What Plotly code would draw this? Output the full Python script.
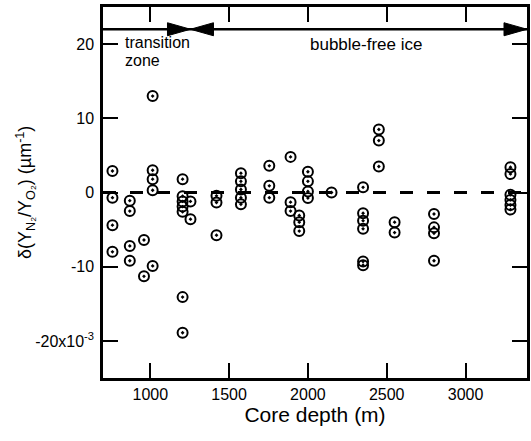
import plotly.graph_objects as go

# Core depth (m) for each measurement
depth = (
    [760] * 4 + [870] * 4 + [960] * 2 + [1015] * 5 + [1205] * 7 + [1255] * 2 +
    [1420] * 3 + [1575] * 5 + [1755] * 3 + [1890] * 3 + [1945] * 3 + [2000] * 4 +
    [2150] * 1 + [2350] * 6 + [2450] * 3 + [2550] * 2 + [2800] * 4 + [3285] * 6
)
# delta(Y_N2/Y_O2) values, in units of 1e-3 um^-1
delta = [
    2.9, -0.7, -4.4, -8.0,
    -1.1, -2.5, -7.2, -9.2,
    -6.4, -11.3,
    13.0, 3.0, 1.8, 0.3, -9.9,
    1.8, -0.5, -1.2, -1.9, -2.6, -14.1, -18.9,
    -1.2, -3.6,
    -0.45, -1.35, -5.75,
    2.6, 1.5, 0.4, -0.7, -1.6,
    3.6, 0.9, -0.7,
    4.8, -1.3, -2.5,
    -3.1, -4.0, -5.2,
    2.8, 1.5, 0.15, -0.75,
    0.0,
    0.7, -2.8, -3.8, -4.9, -9.3, -9.8,
    8.5, 7.0, 3.5,
    -4.0, -5.4,
    -2.9, -4.7, -5.5, -9.2,
    3.4, 2.5, -0.3, -1.0, -1.7, -2.3,
]

x_ticks = [1000, 1500, 2000, 2500, 3000]
y_ticks = [-20, -10, 0, 10, 20]
y_ticktext = ["-20x10<sup>-3</sup>", "-10", "0", "10", "20"]

x_range = [700, 3390]
y_range = [-25, 25]
zone_boundary = 1255
arrow_level = 22

FONT = "Liberation Sans, Arial, Helvetica, sans-serif"

fig = go.Figure()
fig.add_trace(go.Scatter(
    x=depth, y=delta, mode="markers",
    marker=dict(symbol="circle-open-dot", size=10, color="black",
                line=dict(width=2, color="black")),
    showlegend=False,
))

# zero reference line
fig.add_shape(type="line", xref="x domain", yref="y", x0=0, x1=1, y0=0, y1=0,
              line=dict(color="black", width=3, dash="13px,14px"), layer="below")

# zone arrow line and heads
fig.add_shape(type="line", xref="x domain", yref="y", x0=0, x1=1,
              y0=arrow_level, y1=arrow_level, line=dict(color="black", width=2.5))
head_right = "M-23,-6.5 L0,0 L-23,6.5 Z"
head_left = "M23,-6.5 L0,0 L23,6.5 Z"
for anchor, p in [(zone_boundary, head_right), (zone_boundary, head_left),
                  (x_range[1], head_right)]:
    fig.add_shape(type="path", xref="x", yref="y", xsizemode="pixel", ysizemode="pixel",
                  xanchor=anchor, yanchor=arrow_level, path=p,
                  fillcolor="black", line=dict(color="black", width=1))

fig.add_annotation(x=1044, y=20.2, text="transition", showarrow=False,
                   font=dict(family=FONT, size=16, color="black"))
fig.add_annotation(x=953, y=17.8, text="zone", showarrow=False,
                   font=dict(family=FONT, size=16, color="black"))
fig.add_annotation(x=2370, y=19.9, text="bubble-free ice", showarrow=False,
                   font=dict(family=FONT, size=17, color="black"))

# y-axis title
fig.add_annotation(xref="paper", yref="paper", x=-0.183, y=0.5,
                   xanchor="center", yanchor="middle", textangle=-90,
                   text="δ(Y<sub>N₂</sub>/Y<sub>O₂</sub>) (µm<sup>-1</sup>)",
                   showarrow=False, font=dict(family=FONT, size=18, color="black"))

axis_common = dict(showline=True, linecolor="black", linewidth=2.5, mirror="ticks",
                   ticks="inside", ticklen=15, tickwidth=2, tickcolor="black",
                   showgrid=False, zeroline=False,
                   tickfont=dict(family=FONT, size=16, color="black"))

fig.update_xaxes(range=x_range, tickvals=x_ticks, ticklabelstandoff=0,
                 title=dict(text="Core depth (m)", font=dict(family=FONT, size=21, color="black"),
                            standoff=3),
                 **axis_common)
fig.update_yaxes(range=y_range, tickvals=y_ticks, ticktext=y_ticktext,
                 ticklabelstandoff=3, **axis_common)

fig.update_layout(width=531, height=441,
                  margin=dict(l=103, r=1, t=7, b=63),
                  plot_bgcolor="white", paper_bgcolor="white",
                  font=dict(family=FONT, color="black"))

fig.write_html("out.html")
